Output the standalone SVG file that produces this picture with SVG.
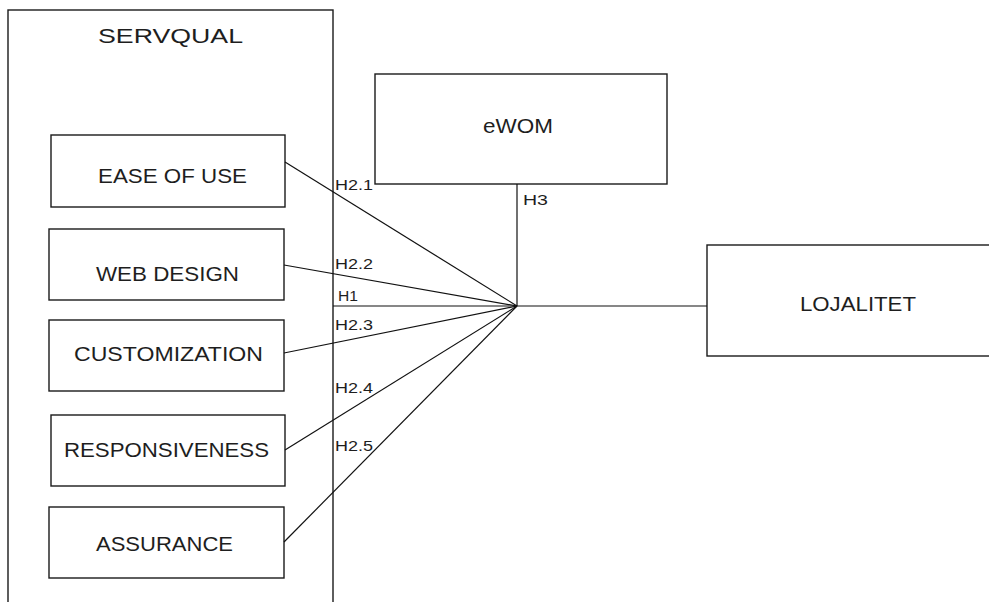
<svg xmlns="http://www.w3.org/2000/svg" width="989" height="602" viewBox="0 0 989 602">
  <style>
    .box { fill: #fff; stroke: #1a1a1a; stroke-width: 1.4; }
    .frame { fill: none; stroke: #1a1a1a; stroke-width: 1.4; }
    .link { fill: none; stroke: #111; stroke-width: 1.2; }
    .lbl { font-family: "Liberation Sans", Arial, sans-serif; font-size: 21px; fill: #1e1e1e; text-anchor: middle; }
    .hyp { font-family: "Liberation Sans", Arial, sans-serif; font-size: 15px; fill: #1e1e1e; }
  </style>
  <rect width="989" height="602" fill="#fff"/>

  <!-- SERVQUAL container -->
  <g id="servqual">
    <rect class="frame" x="8" y="10" width="325" height="620"/>
    <text class="lbl" x="170.5" y="43" font-size="24" textLength="145" lengthAdjust="spacingAndGlyphs">SERVQUAL</text>
  </g>

  <g id="ease-of-use">
    <rect class="box" x="51" y="135" width="234" height="72"/>
    <text class="lbl" x="172.5" y="183" textLength="149" lengthAdjust="spacingAndGlyphs">EASE OF USE</text>
  </g>
  <g id="web-design">
    <rect class="box" x="49" y="229" width="235" height="71"/>
    <text class="lbl" x="167.5" y="281" textLength="143" lengthAdjust="spacingAndGlyphs">WEB DESIGN</text>
  </g>
  <g id="customization">
    <rect class="box" x="49" y="320" width="235" height="71"/>
    <text class="lbl" x="168.5" y="361" textLength="189" lengthAdjust="spacingAndGlyphs">CUSTOMIZATION</text>
  </g>
  <g id="responsiveness">
    <rect class="box" x="51" y="415" width="234" height="71"/>
    <text class="lbl" x="166.5" y="457" textLength="205" lengthAdjust="spacingAndGlyphs">RESPONSIVENESS</text>
  </g>
  <g id="assurance">
    <rect class="box" x="49" y="507" width="235" height="71"/>
    <text class="lbl" x="164.5" y="551" textLength="137" lengthAdjust="spacingAndGlyphs">ASSURANCE</text>
  </g>

  <g id="ewom">
    <rect class="box" x="375" y="74" width="292" height="110"/>
    <text class="lbl" x="518" y="133" textLength="70" lengthAdjust="spacingAndGlyphs">eWOM</text>
  </g>

  <g id="lojalitet">
    <rect class="box" x="707" y="245" width="300" height="111"/>
    <text class="lbl" x="858" y="311" textLength="116" lengthAdjust="spacingAndGlyphs">LOJALITET</text>
  </g>

  <!-- paths into the hub at (517,306) -->
  <g id="connectors">
    <line class="link" x1="285" y1="162" x2="517" y2="306"/>
    <line class="link" x1="284" y1="265" x2="517" y2="306"/>
    <line class="link" x1="284" y1="353" x2="517" y2="306"/>
    <line class="link" x1="285" y1="450" x2="517" y2="306"/>
    <line class="link" x1="284" y1="542" x2="517" y2="306"/>
    <line class="link" x1="333" y1="306" x2="707" y2="306"/>
    <line class="link" x1="517" y1="184" x2="517" y2="306"/>
  </g>

  <g id="hypotheses">
    <text class="hyp" x="335" y="190" textLength="38" lengthAdjust="spacingAndGlyphs">H2.1</text>
    <text class="hyp" x="335" y="269" textLength="38" lengthAdjust="spacingAndGlyphs">H2.2</text>
    <text class="hyp" x="338" y="301" textLength="20" lengthAdjust="spacingAndGlyphs">H1</text>
    <text class="hyp" x="335" y="330" textLength="38" lengthAdjust="spacingAndGlyphs">H2.3</text>
    <text class="hyp" x="335" y="393" textLength="38" lengthAdjust="spacingAndGlyphs">H2.4</text>
    <text class="hyp" x="335" y="451" textLength="38" lengthAdjust="spacingAndGlyphs">H2.5</text>
    <text class="hyp" x="523" y="205" textLength="25" lengthAdjust="spacingAndGlyphs">H3</text>
  </g>
</svg>
